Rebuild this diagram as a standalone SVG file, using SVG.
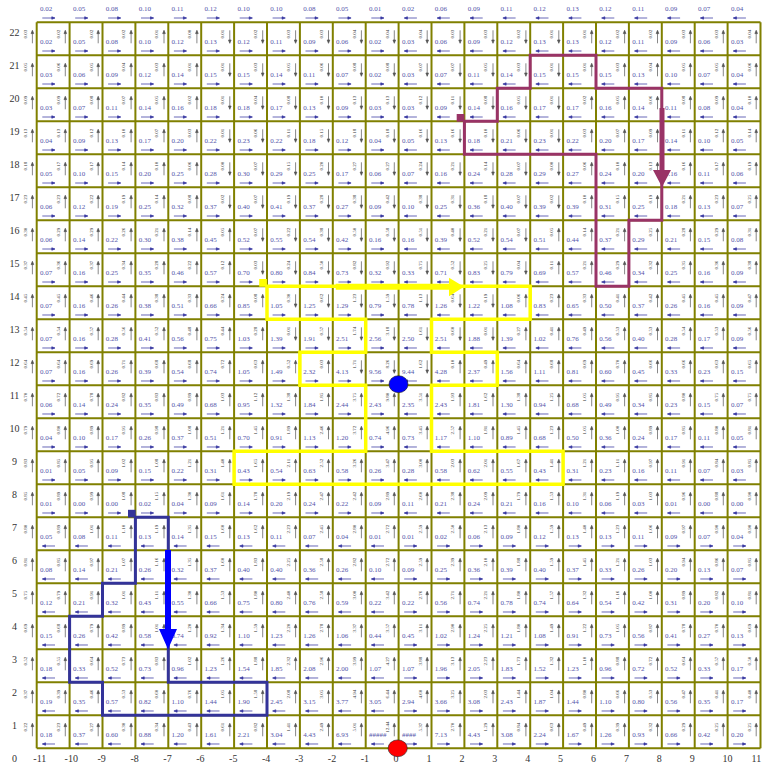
<svg xmlns="http://www.w3.org/2000/svg" xmlns:xlink="http://www.w3.org/1999/xlink" width="762" height="763" viewBox="0 0 762 763">
<style>
.bv{font-family:"Liberation Serif",serif;font-size:7px;fill:#5555aa}
.rv{font-family:"Liberation Serif",serif;font-size:5px;fill:#333;text-anchor:middle}
.ax{font-family:"Liberation Serif",serif;font-size:10px;fill:#333}
.ha{stroke:#3535a0;fill:#3535a0;stroke-width:.75}
.va{stroke:#555;fill:#555;stroke-width:.7}
.grid{stroke:#808000;stroke-width:2;fill:none}
</style>
<defs>
<path id="r" d="M0 28.7H10M12.7 28.7L9.5 27.5V29.9Z"/>
<path id="l" d="M2.7 28.7H12.7M0 28.7L3.2 27.5V29.9Z"/>
<path id="u" d="M0 21V10.5M0 8L-1.3 11.3H1.3Z"/>
<path id="d" d="M0 8V18.5M0 21L-1.3 17.7H1.3Z"/>
<g id="hA" class="ha"><use href="#r" x="42.3"/><use href="#r" x="75.2"/><use href="#r" x="108.1"/><use href="#r" x="141"/><use href="#r" x="173.9"/><use href="#r" x="206.8"/><use href="#r" x="239.7"/><use href="#r" x="272.6"/><use href="#r" x="305.5"/><use href="#r" x="338.4"/><use href="#r" x="371.3"/><use href="#l" x="404.2"/><use href="#l" x="437.1"/><use href="#l" x="470"/><use href="#l" x="502.9"/><use href="#l" x="535.8"/><use href="#l" x="568.7"/><use href="#l" x="601.6"/><use href="#l" x="634.5"/><use href="#l" x="667.4"/><use href="#l" x="700.3"/><use href="#l" x="733.2"/></g>
<g id="hB" class="ha"><use href="#l" x="42.3"/><use href="#l" x="75.2"/><use href="#l" x="108.1"/><use href="#l" x="141"/><use href="#l" x="173.9"/><use href="#l" x="206.8"/><use href="#l" x="239.7"/><use href="#l" x="272.6"/><use href="#l" x="305.5"/><use href="#l" x="338.4"/><use href="#l" x="371.3"/><use href="#r" x="404.2"/><use href="#r" x="437.1"/><use href="#r" x="470"/><use href="#r" x="502.9"/><use href="#r" x="535.8"/><use href="#r" x="568.7"/><use href="#r" x="601.6"/><use href="#r" x="634.5"/><use href="#r" x="667.4"/><use href="#r" x="700.3"/><use href="#r" x="733.2"/></g>
<g id="vA" class="va"><use href="#u" x="32.4"/><use href="#u" x="65.3"/><use href="#u" x="98.2"/><use href="#u" x="131.1"/><use href="#u" x="164"/><use href="#u" x="196.9"/><use href="#d" x="229.8"/><use href="#d" x="262.7"/><use href="#d" x="295.6"/><use href="#d" x="328.5"/><use href="#d" x="361.4"/><use href="#d" x="394.3"/><use href="#d" x="427.2"/><use href="#d" x="460.1"/><use href="#d" x="493"/><use href="#d" x="525.9"/><use href="#d" x="558.8"/><use href="#u" x="591.7"/><use href="#u" x="624.6"/><use href="#u" x="657.5"/><use href="#u" x="690.4"/><use href="#u" x="723.3"/><use href="#u" x="756.2"/></g>
<g id="vB" class="va"><use href="#u" x="32.4"/><use href="#u" x="65.3"/><use href="#u" x="98.2"/><use href="#u" x="131.1"/><use href="#u" x="164"/><use href="#u" x="196.9"/><use href="#u" x="229.8"/><use href="#d" x="262.7"/><use href="#d" x="295.6"/><use href="#d" x="328.5"/><use href="#d" x="361.4"/><use href="#d" x="394.3"/><use href="#d" x="427.2"/><use href="#d" x="460.1"/><use href="#d" x="493"/><use href="#d" x="525.9"/><use href="#u" x="558.8"/><use href="#u" x="591.7"/><use href="#u" x="624.6"/><use href="#u" x="657.5"/><use href="#u" x="690.4"/><use href="#u" x="723.3"/><use href="#u" x="756.2"/></g>
<g id="vC" class="va"><use href="#u" x="32.4"/><use href="#u" x="65.3"/><use href="#u" x="98.2"/><use href="#u" x="131.1"/><use href="#u" x="164"/><use href="#u" x="196.9"/><use href="#u" x="229.8"/><use href="#u" x="262.7"/><use href="#d" x="295.6"/><use href="#d" x="328.5"/><use href="#d" x="361.4"/><use href="#d" x="394.3"/><use href="#d" x="427.2"/><use href="#d" x="460.1"/><use href="#d" x="493"/><use href="#u" x="525.9"/><use href="#u" x="558.8"/><use href="#u" x="591.7"/><use href="#u" x="624.6"/><use href="#u" x="657.5"/><use href="#u" x="690.4"/><use href="#u" x="723.3"/><use href="#u" x="756.2"/></g>
<g id="vD" class="va"><use href="#u" x="32.4"/><use href="#u" x="65.3"/><use href="#u" x="98.2"/><use href="#u" x="131.1"/><use href="#u" x="164"/><use href="#u" x="196.9"/><use href="#u" x="229.8"/><use href="#u" x="262.7"/><use href="#u" x="295.6"/><use href="#u" x="328.5"/><use href="#d" x="361.4"/><use href="#d" x="394.3"/><use href="#d" x="427.2"/><use href="#u" x="460.1"/><use href="#u" x="493"/><use href="#u" x="525.9"/><use href="#u" x="558.8"/><use href="#u" x="591.7"/><use href="#u" x="624.6"/><use href="#u" x="657.5"/><use href="#u" x="690.4"/><use href="#u" x="723.3"/><use href="#u" x="756.2"/></g>
<g id="vE" class="va"><use href="#u" x="32.4"/><use href="#u" x="65.3"/><use href="#u" x="98.2"/><use href="#u" x="131.1"/><use href="#u" x="164"/><use href="#u" x="196.9"/><use href="#u" x="229.8"/><use href="#u" x="262.7"/><use href="#u" x="295.6"/><use href="#u" x="328.5"/><use href="#u" x="361.4"/><use href="#u" x="394.3"/><use href="#u" x="427.2"/><use href="#u" x="460.1"/><use href="#u" x="493"/><use href="#u" x="525.9"/><use href="#u" x="558.8"/><use href="#u" x="591.7"/><use href="#u" x="624.6"/><use href="#u" x="657.5"/><use href="#u" x="690.4"/><use href="#u" x="723.3"/><use href="#u" x="756.2"/></g>
</defs>
<rect width="762" height="763" fill="#fff"/>
<g id="grid" class="grid">
<path d="M36.7 22.3V748.3M69.6 22.3V748.3M102.5 22.3V748.3M135.4 22.3V748.3M168.3 22.3V748.3M201.2 22.3V748.3M234.1 22.3V748.3M267 22.3V748.3M299.9 22.3V748.3M332.8 22.3V748.3M365.7 22.3V748.3M398.6 22.3V748.3M431.5 22.3V748.3M464.4 22.3V748.3M497.3 22.3V748.3M530.2 22.3V748.3M563.1 22.3V748.3M596 22.3V748.3M628.9 22.3V748.3M661.8 22.3V748.3M694.7 22.3V748.3M727.6 22.3V748.3M760.5 22.3V748.3"/>
<path d="M36.7 22.3H760.5M36.7 55.3H760.5M36.7 88.3H760.5M36.7 121.3H760.5M36.7 154.3H760.5M36.7 187.3H760.5M36.7 220.3H760.5M36.7 253.3H760.5M36.7 286.3H760.5M36.7 319.3H760.5M36.7 352.3H760.5M36.7 385.3H760.5M36.7 418.3H760.5M36.7 451.3H760.5M36.7 484.3H760.5M36.7 517.3H760.5M36.7 550.3H760.5M36.7 583.3H760.5M36.7 616.3H760.5M36.7 649.3H760.5M36.7 682.3H760.5M36.7 715.3H760.5M36.7 748.3H760.5"/>
</g>
<g id="axis-labels" class="ax">
<g text-anchor="middle"><text x="14.5" y="35.8">22</text><text x="14.5" y="68.8">21</text><text x="14.5" y="101.8">20</text><text x="14.5" y="134.8">19</text><text x="14.5" y="167.8">18</text><text x="14.5" y="200.8">17</text><text x="14.5" y="233.8">16</text><text x="14.5" y="266.8">15</text><text x="14.5" y="299.8">14</text><text x="14.5" y="332.8">13</text><text x="14.5" y="365.8">12</text><text x="14.5" y="398.8">11</text><text x="14.5" y="431.8">10</text><text x="14.5" y="464.8">9</text><text x="14.5" y="497.8">8</text><text x="14.5" y="530.8">7</text><text x="14.5" y="563.8">6</text><text x="14.5" y="596.8">5</text><text x="14.5" y="629.8">4</text><text x="14.5" y="662.8">3</text><text x="14.5" y="695.8">2</text><text x="14.5" y="728.8">1</text><text x="14.5" y="761.8">0</text></g>
<g><text x="33.3" y="762">-11</text><text x="64.6" y="762">-10</text><text x="97.5" y="762">-9</text><text x="130.4" y="762">-8</text><text x="163.3" y="762">-7</text><text x="196.2" y="762">-6</text><text x="229.1" y="762">-5</text><text x="262" y="762">-4</text><text x="294.9" y="762">-3</text><text x="327.8" y="762">-2</text><text x="360.7" y="762">-1</text><text x="393.6" y="762">0</text><text x="426.5" y="762">1</text><text x="459.4" y="762">2</text><text x="492.3" y="762">3</text><text x="525.2" y="762">4</text><text x="558.1" y="762">5</text><text x="591" y="762">6</text><text x="623.9" y="762">7</text><text x="656.8" y="762">8</text><text x="689.7" y="762">9</text><text x="722.6" y="762">10</text><text x="751.5" y="762">11</text></g>
</g>
<g id="h-arrows">
<use href="#hA" y="-10.7"/><use href="#hA" y="22.3"/><use href="#hA" y="55.3"/><use href="#hA" y="88.3"/><use href="#hA" y="121.3"/><use href="#hA" y="154.3"/><use href="#hA" y="187.3"/><use href="#hA" y="220.3"/><use href="#hA" y="253.3"/><use href="#hA" y="286.3"/><use href="#hA" y="319.3"/><use href="#hA" y="352.3"/><use href="#hA" y="385.3"/><use href="#hA" y="418.3"/><use href="#hA" y="451.3"/><use href="#hA" y="484.3"/><use href="#hB" y="517.3"/><use href="#hB" y="550.3"/><use href="#hB" y="583.3"/><use href="#hB" y="616.3"/><use href="#hB" y="649.3"/><use href="#hB" y="682.3"/><use href="#hB" y="715.3"/>
</g>
<g id="v-arrows">
<use href="#vA" y="22.3"/><use href="#vA" y="55.3"/><use href="#vA" y="88.3"/><use href="#vA" y="121.3"/><use href="#vA" y="154.3"/><use href="#vA" y="187.3"/><use href="#vB" y="220.3"/><use href="#vB" y="253.3"/><use href="#vC" y="286.3"/><use href="#vC" y="319.3"/><use href="#vD" y="352.3"/><use href="#vE" y="385.3"/><use href="#vE" y="418.3"/><use href="#vE" y="451.3"/><use href="#vE" y="484.3"/><use href="#vE" y="517.3"/><use href="#vE" y="550.3"/><use href="#vE" y="583.3"/><use href="#vE" y="616.3"/><use href="#vE" y="649.3"/><use href="#vE" y="682.3"/><use href="#vE" y="715.3"/>
</g>
<g id="cell-values" class="bv">
<g transform="translate(0 11)"><text x="40">0.02</text><text x="72.9">0.05</text><text x="105.8">0.08</text><text x="138.7">0.10</text><text x="171.6">0.11</text><text x="204.5">0.12</text><text x="237.4">0.10</text><text x="270.3">0.10</text><text x="303.2">0.08</text><text x="336.1">0.05</text><text x="369">0.01</text><text x="401.9">0.02</text><text x="434.8">0.06</text><text x="467.7">0.09</text><text x="500.6">0.11</text><text x="533.5">0.12</text><text x="566.4">0.13</text><text x="599.3">0.12</text><text x="632.2">0.11</text><text x="665.1">0.09</text><text x="698">0.07</text><text x="730.9">0.04</text></g>
<g transform="translate(0 44)"><text x="40">0.02</text><text x="72.9">0.05</text><text x="105.8">0.08</text><text x="138.7">0.10</text><text x="171.6">0.12</text><text x="204.5">0.13</text><text x="237.4">0.12</text><text x="270.3">0.11</text><text x="303.2">0.09</text><text x="336.1">0.06</text><text x="369">0.02</text><text x="401.9">0.03</text><text x="434.8">0.06</text><text x="467.7">0.09</text><text x="500.6">0.12</text><text x="533.5">0.13</text><text x="566.4">0.13</text><text x="599.3">0.12</text><text x="632.2">0.11</text><text x="665.1">0.09</text><text x="698">0.06</text><text x="730.9">0.03</text></g>
<g transform="translate(0 77)"><text x="40">0.03</text><text x="72.9">0.06</text><text x="105.8">0.09</text><text x="138.7">0.12</text><text x="171.6">0.14</text><text x="204.5">0.15</text><text x="237.4">0.15</text><text x="270.3">0.14</text><text x="303.2">0.11</text><text x="336.1">0.07</text><text x="369">0.02</text><text x="401.9">0.03</text><text x="434.8">0.07</text><text x="467.7">0.11</text><text x="500.6">0.14</text><text x="533.5">0.15</text><text x="566.4">0.15</text><text x="599.3">0.15</text><text x="632.2">0.13</text><text x="665.1">0.10</text><text x="698">0.07</text><text x="730.9">0.04</text></g>
<g transform="translate(0 110)"><text x="40">0.03</text><text x="72.9">0.07</text><text x="105.8">0.11</text><text x="138.7">0.14</text><text x="171.6">0.16</text><text x="204.5">0.18</text><text x="237.4">0.18</text><text x="270.3">0.17</text><text x="303.2">0.13</text><text x="336.1">0.09</text><text x="369">0.03</text><text x="401.9">0.03</text><text x="434.8">0.09</text><text x="467.7">0.14</text><text x="500.6">0.16</text><text x="533.5">0.17</text><text x="566.4">0.17</text><text x="599.3">0.16</text><text x="632.2">0.14</text><text x="665.1">0.11</text><text x="698">0.08</text><text x="730.9">0.04</text></g>
<g transform="translate(0 143)"><text x="40">0.04</text><text x="72.9">0.09</text><text x="105.8">0.13</text><text x="138.7">0.17</text><text x="171.6">0.20</text><text x="204.5">0.22</text><text x="237.4">0.23</text><text x="270.3">0.22</text><text x="303.2">0.18</text><text x="336.1">0.12</text><text x="369">0.04</text><text x="401.9">0.05</text><text x="434.8">0.13</text><text x="467.7">0.18</text><text x="500.6">0.21</text><text x="533.5">0.23</text><text x="566.4">0.22</text><text x="599.3">0.20</text><text x="632.2">0.17</text><text x="665.1">0.14</text><text x="698">0.10</text><text x="730.9">0.05</text></g>
<g transform="translate(0 176)"><text x="40">0.05</text><text x="72.9">0.10</text><text x="105.8">0.15</text><text x="138.7">0.20</text><text x="171.6">0.25</text><text x="204.5">0.28</text><text x="237.4">0.30</text><text x="270.3">0.29</text><text x="303.2">0.25</text><text x="336.1">0.17</text><text x="369">0.06</text><text x="401.9">0.07</text><text x="434.8">0.16</text><text x="467.7">0.24</text><text x="500.6">0.28</text><text x="533.5">0.29</text><text x="566.4">0.27</text><text x="599.3">0.24</text><text x="632.2">0.20</text><text x="665.1">0.16</text><text x="698">0.11</text><text x="730.9">0.06</text></g>
<g transform="translate(0 209)"><text x="40">0.06</text><text x="72.9">0.12</text><text x="105.8">0.19</text><text x="138.7">0.25</text><text x="171.6">0.32</text><text x="204.5">0.37</text><text x="237.4">0.40</text><text x="270.3">0.41</text><text x="303.2">0.37</text><text x="336.1">0.27</text><text x="369">0.09</text><text x="401.9">0.10</text><text x="434.8">0.25</text><text x="467.7">0.36</text><text x="500.6">0.40</text><text x="533.5">0.39</text><text x="566.4">0.39</text><text x="599.3">0.31</text><text x="632.2">0.25</text><text x="665.1">0.18</text><text x="698">0.13</text><text x="730.9">0.07</text></g>
<g transform="translate(0 242)"><text x="40">0.06</text><text x="72.9">0.14</text><text x="105.8">0.22</text><text x="138.7">0.30</text><text x="171.6">0.38</text><text x="204.5">0.45</text><text x="237.4">0.52</text><text x="270.3">0.55</text><text x="303.2">0.54</text><text x="336.1">0.42</text><text x="369">0.16</text><text x="401.9">0.16</text><text x="434.8">0.39</text><text x="467.7">0.52</text><text x="500.6">0.54</text><text x="533.5">0.51</text><text x="566.4">0.44</text><text x="599.3">0.37</text><text x="632.2">0.29</text><text x="665.1">0.21</text><text x="698">0.15</text><text x="730.9">0.08</text></g>
<g transform="translate(0 275)"><text x="40">0.07</text><text x="72.9">0.16</text><text x="105.8">0.25</text><text x="138.7">0.35</text><text x="171.6">0.46</text><text x="204.5">0.57</text><text x="237.4">0.70</text><text x="270.3">0.80</text><text x="303.2">0.84</text><text x="336.1">0.73</text><text x="369">0.32</text><text x="401.9">0.33</text><text x="434.8">0.71</text><text x="467.7">0.83</text><text x="500.6">0.79</text><text x="533.5">0.69</text><text x="566.4">0.57</text><text x="599.3">0.46</text><text x="632.2">0.34</text><text x="665.1">0.25</text><text x="698">0.16</text><text x="730.9">0.09</text></g>
<g transform="translate(0 308)"><text x="40">0.07</text><text x="72.9">0.16</text><text x="105.8">0.26</text><text x="138.7">0.38</text><text x="171.6">0.51</text><text x="204.5">0.66</text><text x="237.4">0.85</text><text x="270.3">1.05</text><text x="303.2">1.25</text><text x="336.1">1.29</text><text x="369">0.79</text><text x="401.9">0.78</text><text x="434.8">1.26</text><text x="467.7">1.22</text><text x="500.6">1.08</text><text x="533.5">0.83</text><text x="566.4">0.65</text><text x="599.3">0.50</text><text x="632.2">0.37</text><text x="665.1">0.26</text><text x="698">0.16</text><text x="730.9">0.09</text></g>
<g transform="translate(0 341)"><text x="40">0.07</text><text x="72.9">0.16</text><text x="105.8">0.28</text><text x="138.7">0.41</text><text x="171.6">0.56</text><text x="204.5">0.75</text><text x="237.4">1.03</text><text x="270.3">1.39</text><text x="303.2">1.91</text><text x="336.1">2.51</text><text x="369">2.56</text><text x="401.9">2.50</text><text x="434.8">2.51</text><text x="467.7">1.88</text><text x="500.6">1.39</text><text x="533.5">1.02</text><text x="566.4">0.76</text><text x="599.3">0.56</text><text x="632.2">0.40</text><text x="665.1">0.28</text><text x="698">0.17</text><text x="730.9">0.09</text></g>
<g transform="translate(0 374)"><text x="40">0.07</text><text x="72.9">0.16</text><text x="105.8">0.26</text><text x="138.7">0.39</text><text x="171.6">0.54</text><text x="204.5">0.74</text><text x="237.4">1.05</text><text x="270.3">1.49</text><text x="303.2">2.32</text><text x="336.1">4.13</text><text x="369">9.56</text><text x="401.9">9.44</text><text x="434.8">4.28</text><text x="467.7">2.37</text><text x="500.6">1.56</text><text x="533.5">1.11</text><text x="566.4">0.81</text><text x="599.3">0.60</text><text x="632.2">0.45</text><text x="665.1">0.33</text><text x="698">0.23</text><text x="730.9">0.15</text></g>
<g transform="translate(0 407)"><text x="40">0.06</text><text x="72.9">0.14</text><text x="105.8">0.24</text><text x="138.7">0.35</text><text x="171.6">0.49</text><text x="204.5">0.68</text><text x="237.4">0.95</text><text x="270.3">1.32</text><text x="303.2">1.84</text><text x="336.1">2.44</text><text x="369">2.43</text><text x="401.9">2.35</text><text x="434.8">2.43</text><text x="467.7">1.81</text><text x="500.6">1.30</text><text x="533.5">0.94</text><text x="566.4">0.68</text><text x="599.3">0.49</text><text x="632.2">0.34</text><text x="665.1">0.23</text><text x="698">0.15</text><text x="730.9">0.07</text></g>
<g transform="translate(0 440)"><text x="40">0.04</text><text x="72.9">0.10</text><text x="105.8">0.17</text><text x="138.7">0.26</text><text x="171.6">0.37</text><text x="204.5">0.51</text><text x="237.4">0.70</text><text x="270.3">0.91</text><text x="303.2">1.13</text><text x="336.1">1.20</text><text x="369">0.74</text><text x="401.9">0.73</text><text x="434.8">1.17</text><text x="467.7">1.10</text><text x="500.6">0.89</text><text x="533.5">0.68</text><text x="566.4">0.50</text><text x="599.3">0.36</text><text x="632.2">0.24</text><text x="665.1">0.17</text><text x="698">0.11</text><text x="730.9">0.05</text></g>
<g transform="translate(0 473)"><text x="40">0.01</text><text x="72.9">0.05</text><text x="105.8">0.09</text><text x="138.7">0.15</text><text x="171.6">0.22</text><text x="204.5">0.31</text><text x="237.4">0.43</text><text x="270.3">0.54</text><text x="303.2">0.63</text><text x="336.1">0.58</text><text x="369">0.26</text><text x="401.9">0.28</text><text x="434.8">0.58</text><text x="467.7">0.62</text><text x="500.6">0.55</text><text x="533.5">0.43</text><text x="566.4">0.31</text><text x="599.3">0.23</text><text x="632.2">0.16</text><text x="665.1">0.11</text><text x="698">0.07</text><text x="730.9">0.03</text></g>
<g transform="translate(0 506)"><text x="40">0.01</text><text x="72.9">0.00</text><text x="105.8">0.00</text><text x="138.7">0.02</text><text x="171.6">0.04</text><text x="204.5">0.09</text><text x="237.4">0.14</text><text x="270.3">0.20</text><text x="303.2">0.24</text><text x="336.1">0.22</text><text x="369">0.09</text><text x="401.9">0.11</text><text x="434.8">0.21</text><text x="467.7">0.24</text><text x="500.6">0.21</text><text x="533.5">0.16</text><text x="566.4">0.10</text><text x="599.3">0.06</text><text x="632.2">0.03</text><text x="665.1">0.01</text><text x="698">0.00</text><text x="730.9">0.00</text></g>
<g transform="translate(0 539)"><text x="40">0.05</text><text x="72.9">0.08</text><text x="105.8">0.11</text><text x="138.7">0.13</text><text x="171.6">0.14</text><text x="204.5">0.15</text><text x="237.4">0.13</text><text x="270.3">0.11</text><text x="303.2">0.07</text><text x="336.1">0.04</text><text x="369">0.01</text><text x="401.9">0.01</text><text x="434.8">0.02</text><text x="467.7">0.06</text><text x="500.6">0.09</text><text x="533.5">0.12</text><text x="566.4">0.13</text><text x="599.3">0.13</text><text x="632.2">0.11</text><text x="665.1">0.09</text><text x="698">0.07</text><text x="730.9">0.04</text></g>
<g transform="translate(0 572)"><text x="40">0.08</text><text x="72.9">0.14</text><text x="105.8">0.21</text><text x="138.7">0.26</text><text x="171.6">0.32</text><text x="204.5">0.37</text><text x="237.4">0.40</text><text x="270.3">0.40</text><text x="303.2">0.36</text><text x="336.1">0.26</text><text x="369">0.10</text><text x="401.9">0.09</text><text x="434.8">0.25</text><text x="467.7">0.36</text><text x="500.6">0.39</text><text x="533.5">0.40</text><text x="566.4">0.37</text><text x="599.3">0.33</text><text x="632.2">0.26</text><text x="665.1">0.20</text><text x="698">0.13</text><text x="730.9">0.07</text></g>
<g transform="translate(0 605)"><text x="40">0.12</text><text x="72.9">0.21</text><text x="105.8">0.32</text><text x="138.7">0.43</text><text x="171.6">0.55</text><text x="204.5">0.66</text><text x="237.4">0.75</text><text x="270.3">0.80</text><text x="303.2">0.76</text><text x="336.1">0.59</text><text x="369">0.22</text><text x="401.9">0.22</text><text x="434.8">0.56</text><text x="467.7">0.74</text><text x="500.6">0.78</text><text x="533.5">0.74</text><text x="566.4">0.64</text><text x="599.3">0.54</text><text x="632.2">0.42</text><text x="665.1">0.31</text><text x="698">0.20</text><text x="730.9">0.10</text></g>
<g transform="translate(0 638)"><text x="40">0.15</text><text x="72.9">0.26</text><text x="105.8">0.42</text><text x="138.7">0.58</text><text x="171.6">0.74</text><text x="204.5">0.92</text><text x="237.4">1.10</text><text x="270.3">1.23</text><text x="303.2">1.26</text><text x="336.1">1.06</text><text x="369">0.44</text><text x="401.9">0.45</text><text x="434.8">1.02</text><text x="467.7">1.24</text><text x="500.6">1.21</text><text x="533.5">1.08</text><text x="566.4">0.91</text><text x="599.3">0.73</text><text x="632.2">0.56</text><text x="665.1">0.41</text><text x="698">0.27</text><text x="730.9">0.13</text></g>
<g transform="translate(0 671)"><text x="40">0.18</text><text x="72.9">0.33</text><text x="105.8">0.52</text><text x="138.7">0.73</text><text x="171.6">0.96</text><text x="204.5">1.23</text><text x="237.4">1.54</text><text x="270.3">1.85</text><text x="303.2">2.08</text><text x="336.1">2.00</text><text x="369">1.07</text><text x="401.9">1.07</text><text x="434.8">1.96</text><text x="467.7">2.05</text><text x="500.6">1.83</text><text x="533.5">1.52</text><text x="566.4">1.23</text><text x="599.3">0.96</text><text x="632.2">0.72</text><text x="665.1">0.52</text><text x="698">0.33</text><text x="730.9">0.17</text></g>
<g transform="translate(0 704)"><text x="40">0.19</text><text x="72.9">0.35</text><text x="105.8">0.57</text><text x="138.7">0.82</text><text x="171.6">1.10</text><text x="204.5">1.44</text><text x="237.4">1.90</text><text x="270.3">2.45</text><text x="303.2">3.15</text><text x="336.1">3.77</text><text x="369">3.05</text><text x="401.9">2.94</text><text x="434.8">3.66</text><text x="467.7">3.08</text><text x="500.6">2.43</text><text x="533.5">1.87</text><text x="566.4">1.44</text><text x="599.3">1.10</text><text x="632.2">0.80</text><text x="665.1">0.56</text><text x="698">0.35</text><text x="730.9">0.17</text></g>
<g transform="translate(0 737)"><text x="40">0.18</text><text x="72.9">0.37</text><text x="105.8">0.60</text><text x="138.7">0.88</text><text x="171.6">1.20</text><text x="204.5">1.61</text><text x="237.4">2.21</text><text x="270.3">3.04</text><text x="303.2">4.43</text><text x="336.1">6.93</text><text x="369">#####</text><text x="401.9">####</text><text x="434.8">7.13</text><text x="467.7">4.43</text><text x="500.6">3.08</text><text x="533.5">2.24</text><text x="566.4">1.67</text><text x="599.3">1.26</text><text x="632.2">0.93</text><text x="665.1">0.66</text><text x="698">0.42</text><text x="730.9">0.20</text></g>
</g>
<g id="edge-values" class="rv">
<g transform="translate(0 34.1)rotate(-90)"><text y="26.7">0.03</text><text y="59.6">0.02</text><text y="92.5">0.02</text><text y="125.4">0.02</text><text y="158.3">0.01</text><text y="191.2">0.00</text><text y="224.1">0.01</text><text y="257">0.02</text><text y="289.9">0.03</text><text y="322.8">0.03</text><text y="355.7">0.04</text><text y="388.6">0.04</text><text y="421.5">0.04</text><text y="454.4">0.03</text><text y="487.3">0.03</text><text y="520.2">0.02</text><text y="553.1">0.01</text><text y="586">0.01</text><text y="618.9">0.02</text><text y="651.8">0.02</text><text y="684.7">0.03</text><text y="717.6">0.03</text><text y="750.5">0.04</text></g>
<g transform="translate(0 67.1)rotate(-90)"><text y="26.7">0.05</text><text y="59.6">0.06</text><text y="92.5">0.05</text><text y="125.4">0.04</text><text y="158.3">0.03</text><text y="191.2">0.01</text><text y="224.1">0.01</text><text y="257">0.03</text><text y="289.9">0.05</text><text y="322.8">0.06</text><text y="355.7">0.08</text><text y="388.6">0.08</text><text y="421.5">0.07</text><text y="454.4">0.07</text><text y="487.3">0.05</text><text y="520.2">0.03</text><text y="553.1">0.01</text><text y="586">0.01</text><text y="618.9">0.03</text><text y="651.8">0.04</text><text y="684.7">0.05</text><text y="717.6">0.05</text><text y="750.5">0.06</text></g>
<g transform="translate(0 100.1)rotate(-90)"><text y="26.7">0.09</text><text y="59.6">0.09</text><text y="92.5">0.08</text><text y="125.4">0.07</text><text y="158.3">0.05</text><text y="191.2">0.02</text><text y="224.1">0.01</text><text y="257">0.04</text><text y="289.9">0.08</text><text y="322.8">0.10</text><text y="355.7">0.13</text><text y="388.6">0.13</text><text y="421.5">0.12</text><text y="454.4">0.11</text><text y="487.3">0.08</text><text y="520.2">0.05</text><text y="553.1">0.01</text><text y="586">0.02</text><text y="618.9">0.05</text><text y="651.8">0.06</text><text y="684.7">0.08</text><text y="717.6">0.09</text><text y="750.5">0.10</text></g>
<g transform="translate(0 133.1)rotate(-90)"><text y="26.7">0.13</text><text y="59.6">0.13</text><text y="92.5">0.12</text><text y="125.4">0.10</text><text y="158.3">0.07</text><text y="191.2">0.03</text><text y="224.1">0.01</text><text y="257">0.06</text><text y="289.9">0.11</text><text y="322.8">0.15</text><text y="355.7">0.18</text><text y="388.6">0.18</text><text y="421.5">0.16</text><text y="454.4">0.16</text><text y="487.3">0.10</text><text y="520.2">0.06</text><text y="553.1">0.01</text><text y="586">0.03</text><text y="618.9">0.07</text><text y="651.8">0.09</text><text y="684.7">0.11</text><text y="717.6">0.12</text><text y="750.5">0.14</text></g>
<g transform="translate(0 166.1)rotate(-90)"><text y="26.7">0.18</text><text y="59.6">0.17</text><text y="92.5">0.17</text><text y="125.4">0.14</text><text y="158.3">0.10</text><text y="191.2">0.06</text><text y="224.1">0.00</text><text y="257">0.07</text><text y="289.9">0.15</text><text y="322.8">0.20</text><text y="355.7">0.27</text><text y="388.6">0.27</text><text y="421.5">0.24</text><text y="454.4">0.21</text><text y="487.3">0.14</text><text y="520.2">0.07</text><text y="553.1">0.00</text><text y="586">0.06</text><text y="618.9">0.10</text><text y="651.8">0.13</text><text y="684.7">0.16</text><text y="717.6">0.17</text><text y="750.5">0.19</text></g>
<g transform="translate(0 199.1)rotate(-90)"><text y="26.7">0.23</text><text y="59.6">0.23</text><text y="92.5">0.22</text><text y="125.4">0.19</text><text y="158.3">0.14</text><text y="191.2">0.08</text><text y="224.1">0.02</text><text y="257">0.07</text><text y="289.9">0.19</text><text y="322.8">0.28</text><text y="355.7">0.38</text><text y="388.6">0.42</text><text y="421.5">0.38</text><text y="454.4">0.31</text><text y="487.3">0.18</text><text y="520.2">0.07</text><text y="553.1">0.02</text><text y="586">0.10</text><text y="618.9">0.15</text><text y="651.8">0.19</text><text y="684.7">0.21</text><text y="717.6">0.23</text><text y="750.5">0.25</text></g>
<g transform="translate(0 232.1)rotate(-90)"><text y="26.7">0.30</text><text y="59.6">0.29</text><text y="92.5">0.29</text><text y="125.4">0.26</text><text y="158.3">0.21</text><text y="191.2">0.14</text><text y="224.1">0.05</text><text y="257">0.07</text><text y="289.9">0.22</text><text y="322.8">0.38</text><text y="355.7">0.50</text><text y="388.6">0.58</text><text y="421.5">0.51</text><text y="454.4">0.40</text><text y="487.3">0.21</text><text y="520.2">0.07</text><text y="553.1">0.05</text><text y="586">0.14</text><text y="618.9">0.21</text><text y="651.8">0.25</text><text y="684.7">0.28</text><text y="717.6">0.29</text><text y="750.5">0.31</text></g>
<g transform="translate(0 265.1)rotate(-90)"><text y="26.7">0.37</text><text y="59.6">0.36</text><text y="92.5">0.37</text><text y="125.4">0.34</text><text y="158.3">0.28</text><text y="191.2">0.22</text><text y="224.1">0.12</text><text y="257">0.03</text><text y="289.9">0.24</text><text y="322.8">0.50</text><text y="355.7">0.82</text><text y="388.6">0.92</text><text y="421.5">0.75</text><text y="454.4">0.52</text><text y="487.3">0.25</text><text y="520.2">0.04</text><text y="553.1">0.11</text><text y="586">0.21</text><text y="618.9">0.29</text><text y="651.8">0.32</text><text y="684.7">0.35</text><text y="717.6">0.36</text><text y="750.5">0.38</text></g>
<g transform="translate(0 298.1)rotate(-90)"><text y="26.7">0.45</text><text y="59.6">0.45</text><text y="92.5">0.46</text><text y="125.4">0.44</text><text y="158.3">0.38</text><text y="191.2">0.33</text><text y="224.1">0.24</text><text y="257">0.08</text><text y="289.9">0.30</text><text y="322.8">0.62</text><text y="355.7">1.23</text><text y="388.6">1.59</text><text y="421.5">1.13</text><text y="454.4">0.64</text><text y="487.3">0.19</text><text y="520.2">0.06</text><text y="553.1">0.23</text><text y="586">0.33</text><text y="618.9">0.41</text><text y="651.8">0.42</text><text y="684.7">0.45</text><text y="717.6">0.45</text><text y="750.5">0.47</text></g>
<g transform="translate(0 331.1)rotate(-90)"><text y="26.7">0.54</text><text y="59.6">0.54</text><text y="92.5">0.57</text><text y="125.4">0.56</text><text y="158.3">0.52</text><text y="191.2">0.48</text><text y="224.1">0.44</text><text y="257">0.28</text><text y="289.9">0.01</text><text y="322.8">0.57</text><text y="355.7">1.74</text><text y="388.6">3.18</text><text y="421.5">1.61</text><text y="454.4">0.60</text><text y="487.3">0.01</text><text y="520.2">0.27</text><text y="553.1">0.41</text><text y="586">0.49</text><text y="618.9">0.53</text><text y="651.8">0.53</text><text y="684.7">0.54</text><text y="717.6">0.53</text><text y="750.5">0.56</text></g>
<g transform="translate(0 364.1)rotate(-90)"><text y="26.7">0.64</text><text y="59.6">0.64</text><text y="92.5">0.69</text><text y="125.4">0.71</text><text y="158.3">0.68</text><text y="191.2">0.68</text><text y="224.1">0.72</text><text y="257">0.63</text><text y="289.9">0.52</text><text y="322.8">0.03</text><text y="355.7">1.71</text><text y="388.6">8.26</text><text y="421.5">1.62</text><text y="454.4">0.10</text><text y="487.3">0.49</text><text y="520.2">0.64</text><text y="553.1">0.68</text><text y="586">0.69</text><text y="618.9">0.70</text><text y="651.8">0.66</text><text y="684.7">0.66</text><text y="717.6">0.63</text><text y="750.5">0.65</text></g>
<g transform="translate(0 397.1)rotate(-90)"><text y="26.7">0.70</text><text y="59.6">0.72</text><text y="92.5">0.78</text><text y="125.4">0.82</text><text y="158.3">0.83</text><text y="191.2">0.89</text><text y="224.1">1.03</text><text y="257">1.12</text><text y="289.9">1.38</text><text y="322.8">1.85</text><text y="355.7">3.75</text><text y="388.6">9.80</text><text y="421.5">3.51</text><text y="454.4">1.93</text><text y="487.3">1.62</text><text y="520.2">1.38</text><text y="553.1">1.25</text><text y="586">1.05</text><text y="618.9">0.95</text><text y="651.8">0.85</text><text y="684.7">0.80</text><text y="717.6">0.75</text><text y="750.5">0.75</text></g>
<g transform="translate(0 430.1)rotate(-90)"><text y="26.7">0.79</text><text y="59.6">0.80</text><text y="92.5">0.89</text><text y="125.4">0.95</text><text y="158.3">0.98</text><text y="191.2">1.08</text><text y="224.1">1.21</text><text y="257">1.45</text><text y="289.9">1.89</text><text y="322.8">2.46</text><text y="355.7">3.72</text><text y="388.6">4.96</text><text y="421.5">3.45</text><text y="454.4">2.57</text><text y="487.3">1.81</text><text y="520.2">1.45</text><text y="553.1">1.23</text><text y="586">1.05</text><text y="618.9">1.00</text><text y="651.8">0.89</text><text y="684.7">0.85</text><text y="717.6">0.80</text><text y="750.5">0.81</text></g>
<g transform="translate(0 463.1)rotate(-90)"><text y="26.7">0.83</text><text y="59.6">0.85</text><text y="92.5">0.95</text><text y="125.4">1.02</text><text y="158.3">1.08</text><text y="191.2">1.21</text><text y="224.1">1.40</text><text y="257">1.65</text><text y="289.9">2.11</text><text y="322.8">2.52</text><text y="355.7">3.26</text><text y="388.6">3.47</text><text y="421.5">3.00</text><text y="454.4">2.03</text><text y="487.3">2.01</text><text y="520.2">1.67</text><text y="553.1">1.41</text><text y="586">1.21</text><text y="618.9">1.11</text><text y="651.8">0.97</text><text y="684.7">0.91</text><text y="717.6">0.84</text><text y="750.5">0.85</text></g>
<g transform="translate(0 496.1)rotate(-90)"><text y="26.7">0.85</text><text y="59.6">0.89</text><text y="92.5">0.99</text><text y="125.4">1.08</text><text y="158.3">1.15</text><text y="191.2">1.30</text><text y="224.1">1.61</text><text y="257">1.78</text><text y="289.9">2.19</text><text y="322.8">2.47</text><text y="355.7">2.42</text><text y="388.6">2.89</text><text y="421.5">2.60</text><text y="454.4">2.38</text><text y="487.3">2.09</text><text y="520.2">1.79</text><text y="553.1">1.53</text><text y="586">1.31</text><text y="618.9">1.19</text><text y="651.8">1.03</text><text y="684.7">0.96</text><text y="717.6">0.88</text><text y="750.5">0.90</text></g>
<g transform="translate(0 529.1)rotate(-90)"><text y="26.7">0.80</text><text y="59.6">0.89</text><text y="92.5">1.01</text><text y="125.4">1.10</text><text y="158.3">1.19</text><text y="191.2">1.35</text><text y="224.1">1.60</text><text y="257">1.62</text><text y="289.9">2.23</text><text y="322.8">2.45</text><text y="355.7">2.80</text><text y="388.6">2.72</text><text y="421.5">2.59</text><text y="454.4">2.50</text><text y="487.3">2.13</text><text y="520.2">1.80</text><text y="553.1">1.59</text><text y="586">1.40</text><text y="618.9">1.23</text><text y="651.8">1.06</text><text y="684.7">0.97</text><text y="717.6">0.90</text><text y="750.5">0.90</text></g>
<g transform="translate(0 562.1)rotate(-90)"><text y="26.7">0.81</text><text y="59.6">0.85</text><text y="92.5">0.97</text><text y="125.4">1.07</text><text y="158.3">1.16</text><text y="191.2">1.35</text><text y="224.1">1.60</text><text y="257">1.83</text><text y="289.9">2.25</text><text y="322.8">2.58</text><text y="355.7">2.82</text><text y="388.6">2.72</text><text y="421.5">2.59</text><text y="454.4">2.39</text><text y="487.3">2.10</text><text y="520.2">1.88</text><text y="553.1">1.59</text><text y="586">1.45</text><text y="618.9">1.21</text><text y="651.8">1.03</text><text y="684.7">0.94</text><text y="717.6">0.86</text><text y="750.5">0.85</text></g>
<g transform="translate(0 595.1)rotate(-90)"><text y="26.7">0.75</text><text y="59.6">0.79</text><text y="92.5">0.91</text><text y="125.4">1.01</text><text y="158.3">1.11</text><text y="191.2">1.30</text><text y="224.1">1.53</text><text y="257">1.80</text><text y="289.9">2.40</text><text y="322.8">2.58</text><text y="355.7">3.00</text><text y="388.6">3.42</text><text y="421.5">2.76</text><text y="454.4">2.71</text><text y="487.3">2.21</text><text y="520.2">1.80</text><text y="553.1">1.57</text><text y="586">1.32</text><text y="618.9">1.16</text><text y="651.8">1.00</text><text y="684.7">0.89</text><text y="717.6">0.82</text><text y="750.5">0.81</text></g>
<g transform="translate(0 628.1)rotate(-90)"><text y="26.7">0.69</text><text y="59.6">0.68</text><text y="92.5">0.79</text><text y="125.4">0.89</text><text y="158.3">1.01</text><text y="191.2">1.20</text><text y="224.1">1.34</text><text y="257">1.59</text><text y="289.9">2.20</text><text y="322.8">2.78</text><text y="355.7">3.37</text><text y="388.6">3.57</text><text y="421.5">3.11</text><text y="454.4">2.90</text><text y="487.3">2.25</text><text y="520.2">1.80</text><text y="553.1">1.49</text><text y="586">1.22</text><text y="618.9">1.05</text><text y="651.8">0.87</text><text y="684.7">0.78</text><text y="717.6">0.70</text><text y="750.5">0.69</text></g>
<g transform="translate(0 661.1)rotate(-90)"><text y="26.7">0.52</text><text y="59.6">0.55</text><text y="92.5">0.64</text><text y="125.4">0.73</text><text y="158.3">0.83</text><text y="191.2">1.02</text><text y="224.1">1.26</text><text y="257">1.88</text><text y="289.9">2.32</text><text y="322.8">2.96</text><text y="355.7">3.99</text><text y="388.6">4.27</text><text y="421.5">3.88</text><text y="454.4">3.13</text><text y="487.3">2.23</text><text y="520.2">1.73</text><text y="553.1">1.32</text><text y="586">1.10</text><text y="618.9">0.88</text><text y="651.8">0.72</text><text y="684.7">0.64</text><text y="717.6">0.57</text><text y="750.5">0.50</text></g>
<g transform="translate(0 694.1)rotate(-90)"><text y="26.7">0.37</text><text y="59.6">0.39</text><text y="92.5">0.46</text><text y="125.4">0.53</text><text y="158.3">0.60</text><text y="191.2">0.76</text><text y="224.1">1.05</text><text y="257">1.58</text><text y="289.9">2.08</text><text y="322.8">3.05</text><text y="355.7">4.94</text><text y="388.6">6.44</text><text y="421.5">4.60</text><text y="454.4">3.25</text><text y="487.3">2.03</text><text y="520.2">1.44</text><text y="553.1">1.04</text><text y="586">0.80</text><text y="618.9">0.66</text><text y="651.8">0.53</text><text y="684.7">0.47</text><text y="717.6">0.41</text><text y="750.5">0.40</text></g>
<g transform="translate(0 727.1)rotate(-90)"><text y="26.7">0.22</text><text y="59.6">0.23</text><text y="92.5">0.27</text><text y="125.4">0.30</text><text y="158.3">0.34</text><text y="191.2">0.43</text><text y="224.1">0.61</text><text y="257">0.82</text><text y="289.9">1.41</text><text y="322.8">2.49</text><text y="355.7">5.01</text><text y="388.6">12.44</text><text y="421.5">5.37</text><text y="454.4">2.70</text><text y="487.3">1.29</text><text y="520.2">0.84</text><text y="553.1">0.63</text><text y="586">0.49</text><text y="618.9">0.39</text><text y="651.8">0.32</text><text y="684.7">0.29</text><text y="717.6">0.25</text><text y="750.5">0.25</text></g>
</g>
<g id="purple-region" fill="none" stroke="#993366" stroke-width="3">
<path d="M464.4 154.3V121.3H497.3V88.3H530.2V55.3H596V88.3H661.8V220.3H628.9V286.3H596V154.3Z"/>
<rect x="456.7" y="114" width="7.7" height="7.7" fill="#993366" stroke="none"/>
<path d="M659.5 108H664.5V170H671L662 187L653 170H659.5Z" fill="#993366" stroke="none"/>
</g>
<g id="yellow-region" fill="none" stroke="#ffff00" stroke-width="3.5">
<path d="M267 286.3H530.2V319.3H431.5V352.3H497.3V385.3H431.5V451.3H563.1V484.3H234.1V451.3H365.7V385.3H299.9V352.3H365.7V319.3H267Z"/>
<rect x="259.2" y="279" width="7.7" height="7.7" fill="#ffff00" stroke="none"/>
<path d="M335.7 283.7H449V277.7L464 286.7L449 296.2V289.7H335.7Z" fill="#ffff00" stroke="none"/>
</g>
<g id="navy-region" fill="none" stroke="#333399" stroke-width="3">
<path d="M135.4 517.3H168.3V682.3H267V715.3H102.5V682.3H69.6V616.3H102.5V583.3H135.4Z"/>
<rect x="128" y="509.8" width="7.7" height="7.7" fill="#333399" stroke="none"/>
<path d="M165 550H171V629H177L168 649.3L159 629H165Z" fill="#0000ff" stroke="none"/>
</g>
<g id="markers" stroke="#222" stroke-width=".6">
<ellipse cx="398.5" cy="384.2" rx="9.5" ry="8.5" fill="#0000ff"/>
<ellipse cx="397.7" cy="748.3" rx="9.6" ry="8.4" fill="#ff0000"/>
</g>
</svg>
